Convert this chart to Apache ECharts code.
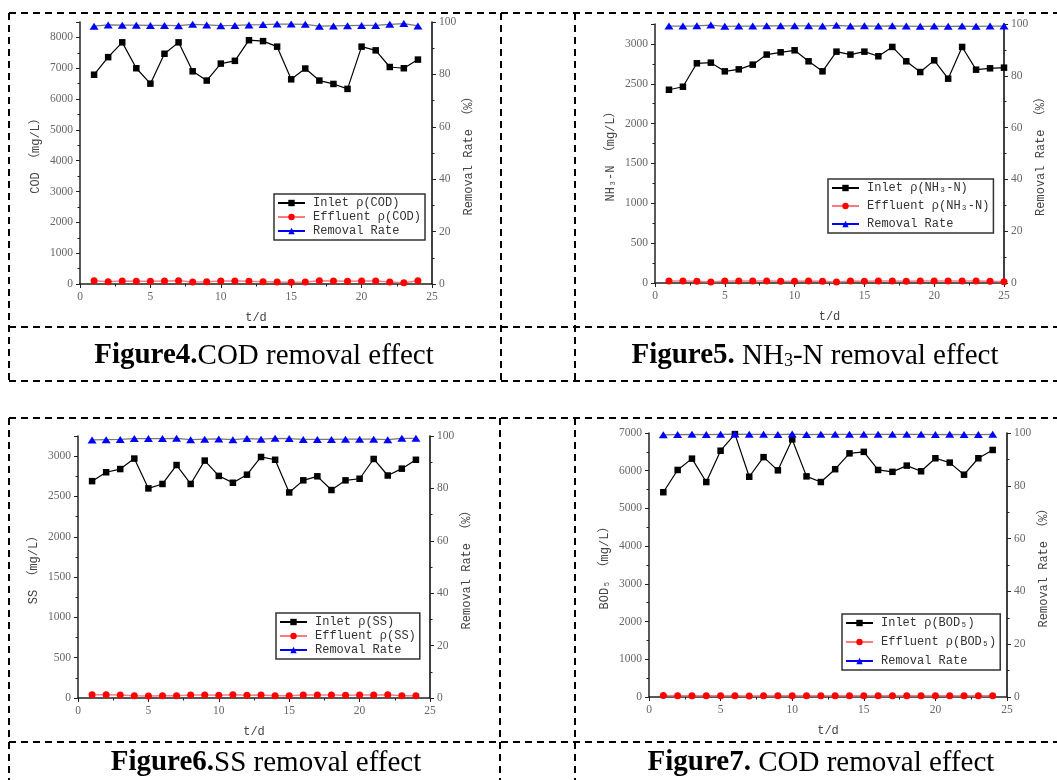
<!DOCTYPE html>
<html>
<head>
<meta charset="utf-8">
<script src="https://cdn.jsdelivr.net/npm/echarts@6/dist/echarts.min.js"></script>
<style>
  html, body { margin: 0; padding: 0; background: #fff; }
  #chart { width: 1057px; height: 780px; }
</style>
</head>
<body>
<div id="chart"></div>
<script>
// Sampling days
const days24 = [1,2,3,4,5,6,7,8,9,10,11,12,13,14,15,16,17,18,19,20,21,22,23,24];
const days25 = [1,2,3,4,5,6,7,8,9,10,11,12,13,14,15,16,17,18,19,20,21,22,23,24,25];

// COD (mg/L) and removal rate (%)
const codInlet    = [6790,7360,7840,7000,6500,7470,7840,6900,6600,7150,7240,7910,7880,7700,6640,6990,6600,6490,6330,7700,7580,7040,7000,7280];
const codEffluent = [108,76,97,86,86,97,108,65,76,97,97,86,76,65,54,65,108,97,86,97,97,65,43,108];
const codRemoval  = [98.4,98.9,98.8,98.8,98.7,98.7,98.6,99.1,98.9,98.6,98.7,98.9,99.0,99.2,99.2,99.1,98.4,98.5,98.6,98.7,98.7,99.1,99.4,98.5];

// NH3-N (mg/L) and removal rate (%)
const nh3Inlet    = [2425,2463,2757,2765,2656,2681,2740,2866,2895,2920,2782,2656,2903,2866,2903,2845,2962,2782,2647,2794,2564,2962,2677,2694,2702];
const nh3Effluent = [24,24,21,13,24,24,24,24,21,21,24,21,13,24,21,24,24,21,24,24,24,24,24,21,17];
const nh3Removal  = [99.2,99.2,99.3,99.6,99.1,99.2,99.2,99.3,99.3,99.3,99.3,99.2,99.5,99.2,99.3,99.2,99.3,99.2,99.1,99.2,99.1,99.2,99.1,99.2,99.2];

// SS (mg/L) and removal rate (%)
const ssInlet     = [2690,2800,2840,2970,2600,2655,2890,2655,2945,2755,2670,2770,2990,2955,2550,2700,2750,2580,2700,2720,2965,2760,2845,2955];
const ssEffluent  = [41,41,37,29,25,29,29,37,37,33,41,33,37,29,29,37,37,37,33,37,37,41,29,29];
const ssRemoval   = [98.5,98.6,98.7,99.0,99.0,99.0,99.1,98.6,98.8,98.9,98.6,99.0,98.8,99.1,99.0,98.7,98.7,98.7,98.8,98.8,98.8,98.6,99.1,99.1];

// BOD5 (mg/L) and removal rate (%)
const bodInlet    = [5430,6020,6320,5700,6530,6970,5840,6360,6010,6830,5850,5700,6040,6460,6500,6020,5970,6135,5985,6330,6215,5895,6330,6550];
const bodEffluent = [38,35,30,32,30,31,29,33,36,30,34,31,33,34,32,30,31,33,32,35,31,34,36,33];
const bodRemoval  = [99.3,99.4,99.5,99.4,99.5,99.6,99.5,99.5,99.4,99.6,99.4,99.5,99.5,99.5,99.5,99.5,99.5,99.5,99.5,99.4,99.5,99.4,99.4,99.5];

// Axis ticks
const xTicks = { min: 0, max: 25, interval: 5 };
const rateTicks = { min: 0, max: 100, interval: 20 };

const tickFont = '"Liberation Serif", "Times New Roman", serif';
const monoFont = '"Liberation Mono", "DejaVu Sans Mono", "Noto Sans CJK SC", monospace';
const axisColor = '#222';

const pairs = (xs, ys) => xs.map((x, i) => [x, ys[i]]);

const panels = [
  { grid: { left: 80, top: 22, width: 352, height: 262 }, yMax: 8500, yInt: 1000,
    yName: 'COD （mg/L）', days: days24, inlet: codInlet, eff: codEffluent, rate: codRemoval,
    names: ['Inlet ρ(COD)', 'Effluent ρ(COD)', 'Removal Rate'],
    legend: { left: 274, top: 194, itemGap: 2 } },
  { grid: { left: 655, top: 24, width: 349, height: 259 }, yMax: 3250, yInt: 500,
    yName: 'NH₃-N （mg/L）', days: days25, inlet: nh3Inlet, eff: nh3Effluent, rate: nh3Removal,
    names: ['Inlet ρ(NH₃-N)', 'Effluent ρ(NH₃-N)', 'Removal Rate '],
    legend: { left: 828, top: 179, itemGap: 6 } },
  { grid: { left: 78, top: 436, width: 352, height: 262 }, yMax: 3250, yInt: 500,
    yName: 'SS （mg/L）', days: days24, inlet: ssInlet, eff: ssEffluent, rate: ssRemoval,
    names: ['Inlet ρ(SS)', 'Effluent ρ(SS)', 'Removal Rate  '],
    legend: { left: 276, top: 613, itemGap: 2 } },
  { grid: { left: 649, top: 433, width: 358, height: 264 }, yMax: 7000, yInt: 1000,
    yName: 'BOD₅ （mg/L）', days: days24, inlet: bodInlet, eff: bodEffluent, rate: bodRemoval,
    names: ['Inlet ρ(BOD₅)', 'Effluent ρ(BOD₅)', 'Removal Rate   '],
    legend: { left: 842, top: 614, itemGap: 7 } }
];

const axisCommon = {
  axisLine: { show: true, onZero: false, lineStyle: { color: axisColor, width: 1.5 } },
  axisTick: { show: true, inside: false, length: 4, lineStyle: { color: axisColor, width: 1 } },
  minorTick: { show: true, splitNumber: 2, length: 2.5, lineStyle: { color: axisColor, width: 1 } },
  splitLine: { show: false },
  axisLabel: { color: '#666', fontFamily: tickFont, fontSize: 11.5, margin: 7, formatter: (v) => String(v) },
  nameLocation: 'middle',
  nameTextStyle: { color: '#444', fontFamily: monoFont, fontSize: 12 }
};

const option = {
  animation: false,
  backgroundColor: '#fff',
  grid: [], xAxis: [], yAxis: [], series: [], legend: [],
  graphic: []
};

panels.forEach((p, k) => {
  option.grid.push(Object.assign({ containLabel: false }, p.grid));
  option.xAxis.push(Object.assign({}, axisCommon, {
    type: 'value', gridIndex: k, min: xTicks.min, max: xTicks.max, interval: xTicks.interval,
    name: 't/d', nameGap: 28
  }));
  option.yAxis.push(Object.assign({}, axisCommon, {
    type: 'value', gridIndex: k, position: 'left', min: 0, max: p.yMax, interval: p.yInt,
    name: p.yName, nameGap: 38,
    axisLabel: Object.assign({}, axisCommon.axisLabel, { showMaxLabel: p.yMax % p.yInt === 0 })
  }));
  option.yAxis.push(Object.assign({}, axisCommon, {
    type: 'value', gridIndex: k, position: 'right', min: rateTicks.min, max: rateTicks.max,
    interval: rateTicks.interval, name: 'Removal Rate （%）', nameGap: 31,
    axisLine: { show: true, onZero: false, lineStyle: { color: '#000', width: 1.5 } }
  }));
  const yl = 2 * k, yr = 2 * k + 1;
  option.series.push({
    name: p.names[0], type: 'line', xAxisIndex: k, yAxisIndex: yl,
    data: pairs(p.days, p.inlet), symbol: 'rect', symbolSize: 6.5,
    lineStyle: { color: '#000', width: 1.2 }, itemStyle: { color: '#000' }, z: 3
  });
  option.series.push({
    name: p.names[1], type: 'line', xAxisIndex: k, yAxisIndex: yl,
    data: pairs(p.days, p.eff), symbol: 'circle', symbolSize: 7,
    lineStyle: { color: '#ff7a7a', width: 1.5 }, itemStyle: { color: '#ff0000' }, z: 4
  });
  option.series.push({
    name: p.names[2], type: 'line', xAxisIndex: k, yAxisIndex: yr,
    data: pairs(p.days, p.rate), symbol: 'triangle', symbolSize: [9, 7],
    lineStyle: { color: '#777', width: 1.2 }, itemStyle: { color: '#0000ff' }, z: 3
  });
  option.legend.push({
    orient: 'vertical', left: p.legend.left, top: p.legend.top,
    itemGap: p.legend.itemGap, itemWidth: 27, itemHeight: 8,
    padding: [3, 4, 3, 3], selectedMode: false,
    borderColor: '#333', borderWidth: 1.5, backgroundColor: '#fff',
    textStyle: { color: '#333', fontFamily: monoFont, fontSize: 12, padding: [0, 0, 0, 3] },
    formatter: (n) => n.trim(),
    data: [
      { name: p.names[0] },
      { name: p.names[1] },
      { name: p.names[2], lineStyle: { color: '#0000ff' } }
    ]
  });
});

// Dashed frames around each figure and caption
const dash = { stroke: '#000', lineWidth: 2, lineDash: [7, 5] };
const segs = [
  [9, 13, 1057, 13], [9, 327, 1057, 327], [9, 381, 1057, 381],
  [9, 13, 9, 381], [501, 13, 501, 381], [575, 13, 575, 381],
  [9, 418, 1057, 418], [9, 742, 1057, 742],
  [9, 418, 9, 780], [500, 418, 500, 780], [575, 418, 575, 780]
];
segs.forEach(s => option.graphic.push({
  type: 'line', silent: true,
  shape: { x1: s[0], y1: s[1], x2: s[2], y2: s[3] }, style: dash
}));

// Figure captions
const capFont = '"Liberation Serif", "Times New Roman", serif';
const capRich = {
  b: { fontFamily: capFont, fontSize: 29, fontWeight: 'bold', color: '#000' },
  n: { fontFamily: capFont, fontSize: 29, color: '#000' },
  s: { fontFamily: capFont, fontSize: 18, color: '#000', verticalAlign: 'bottom' }
};
const captions = [
  { x: 264, y: 356, text: '{b|Figure4.}{n|COD removal effect}' },
  { x: 815, y: 356, text: '{b|Figure5.}{n| NH}{s|3}{n|-N removal effect}' },
  { x: 266, y: 763, text: '{b|Figure6.}{n|SS removal effect}' },
  { x: 821, y: 763, text: '{b|Figure7.}{n| COD removal effect}' }
];
captions.forEach(c => option.graphic.push({
  type: 'text', x: c.x, y: c.y, silent: true,
  style: { text: c.text, rich: capRich, align: 'center', verticalAlign: 'middle' }
}));

const chart = echarts.init(document.getElementById('chart'), null, { renderer: 'canvas' });
chart.setOption(option);
</script>
</body>
</html>
